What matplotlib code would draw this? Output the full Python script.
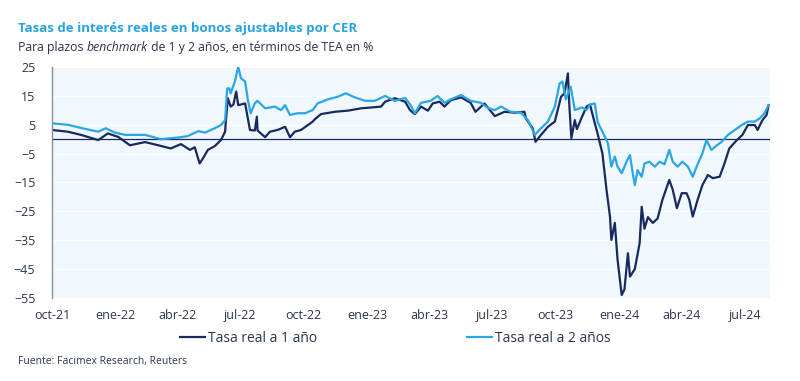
import pandas as pd
import matplotlib.pyplot as plt

# Tasa real a 1 año (navy)
fechas_1 = [
    "2021-10-01", "2021-10-24", "2021-11-12", "2021-12-07", "2021-12-21", "2022-01-05",
    "2022-01-22", "2022-02-13", "2022-03-04", "2022-03-22", "2022-04-06", "2022-04-19",
    "2022-04-26", "2022-05-03", "2022-05-08", "2022-05-15", "2022-05-25", "2022-06-03",
    "2022-06-09", "2022-06-10", "2022-06-13", "2022-06-17", "2022-06-21", "2022-06-25",
    "2022-06-28", "2022-07-08", "2022-07-15", "2022-07-22", "2022-07-25", "2022-07-26",
    "2022-08-06", "2022-08-13", "2022-08-24", "2022-09-04", "2022-09-11", "2022-09-18",
    "2022-09-27", "2022-10-07", "2022-10-14", "2022-10-17", "2022-10-26", "2022-11-15",
    "2022-12-04", "2022-12-23", "2023-01-12", "2023-01-21", "2023-01-27", "2023-02-10",
    "2023-02-25", "2023-03-04", "2023-03-11", "2023-03-20", "2023-03-30", "2023-04-06",
    "2023-04-16", "2023-04-23", "2023-05-02", "2023-05-17", "2023-05-31", "2023-06-07",
    "2023-06-20", "2023-07-05", "2023-07-19", "2023-08-03", "2023-08-17", "2023-08-19",
    "2023-08-29", "2023-09-02", "2023-09-10", "2023-09-20", "2023-09-30", "2023-10-09",
    "2023-10-14", "2023-10-19", "2023-10-21", "2023-10-24", "2023-10-29", "2023-11-01",
    "2023-11-08", "2023-11-15", "2023-11-20", "2023-11-27", "2023-12-01", "2023-12-08",
    "2023-12-14", "2023-12-19", "2023-12-21", "2023-12-26", "2023-12-30", "2024-01-05",
    "2024-01-09", "2024-01-14", "2024-01-17", "2024-01-24", "2024-01-31", "2024-02-03",
    "2024-02-07", "2024-02-12", "2024-02-19", "2024-02-26", "2024-03-04", "2024-03-14",
    "2024-03-19", "2024-03-25", "2024-04-01", "2024-04-08", "2024-04-12", "2024-04-17",
    "2024-04-24", "2024-05-01", "2024-05-09", "2024-05-16", "2024-05-26", "2024-06-02",
    "2024-06-09", "2024-06-20", "2024-06-28", "2024-07-06", "2024-07-16", "2024-07-20",
    "2024-07-27", "2024-08-02", "2024-08-05",
]
tasa_1 = [
    3.2, 2.6, 1.5, -0.3, 2.0, 0.8,
    -2.1, -1.0, -2.1, -3.2, -1.7, -3.7,
    -2.8, -8.4, -6.6, -3.7, -2.4, -0.3,
    2.6, 6.1, 14.2, 11.3, 12.0, 16.5,
    11.8, 12.4, 3.2, 3.0, 7.8, 3.0,
    0.7, 2.6, 3.2, 4.3, 0.7, 2.6,
    3.2, 4.9, 6.1, 6.9, 8.7, 9.5,
    9.9, 10.7, 11.1, 11.3, 13.0, 14.2,
    13.0, 10.1, 8.7, 11.3, 9.9, 12.4,
    13.0, 11.3, 13.5, 14.5, 12.6, 9.5,
    12.4, 8.0, 9.5, 9.2, 9.5, 7.2,
    3.8, -0.9, 1.5, 4.3, 6.1, 14.7,
    15.9, 22.8, 12.0, 0.4, 6.6, 3.5,
    7.5, 11.3, 12.0, 5.5, 2.0, -4.9,
    -17.6, -26.8, -34.9, -29.0, -41.8, -54.0,
    -52.0, -39.5, -47.6, -45.0, -36.0, -23.4,
    -31.0, -27.0, -29.0, -27.5, -21.0, -14.1,
    -17.5, -23.9, -18.7, -18.7, -21.0, -26.8,
    -21.0, -15.9, -12.4, -13.5, -13.0, -8.4,
    -3.2, -0.3, 1.5, 4.9, 4.9, 3.2,
    6.6, 8.4, 11.8,
]

# Tasa real a 2 años (light blue)
fechas_2 = [
    "2021-10-01", "2021-10-24", "2021-11-12", "2021-12-07", "2021-12-18", "2021-12-31",
    "2022-01-15", "2022-02-13", "2022-03-08", "2022-04-06", "2022-04-16", "2022-05-01",
    "2022-05-11", "2022-05-25", "2022-06-03", "2022-06-09", "2022-06-12", "2022-06-15",
    "2022-06-17", "2022-06-23", "2022-06-28", "2022-07-02", "2022-07-08", "2022-07-12",
    "2022-07-16", "2022-07-22", "2022-07-26", "2022-08-06", "2022-08-20", "2022-08-29",
    "2022-09-04", "2022-09-11", "2022-09-22", "2022-10-03", "2022-10-14", "2022-10-21",
    "2022-11-05", "2022-11-19", "2022-12-01", "2022-12-14", "2022-12-29", "2023-01-12",
    "2023-01-27", "2023-02-10", "2023-02-25", "2023-03-05", "2023-03-11", "2023-03-20",
    "2023-04-03", "2023-04-13", "2023-04-23", "2023-05-02", "2023-05-17", "2023-05-31",
    "2023-06-15", "2023-06-25", "2023-07-05", "2023-07-14", "2023-07-28", "2023-08-12",
    "2023-08-22", "2023-09-01", "2023-09-10", "2023-09-20", "2023-09-30", "2023-10-07",
    "2023-10-11", "2023-10-16", "2023-10-23", "2023-10-29", "2023-11-08", "2023-11-15",
    "2023-11-20", "2023-11-27", "2023-12-01", "2023-12-08", "2023-12-16", "2023-12-21",
    "2023-12-26", "2023-12-30", "2024-01-05", "2024-01-12", "2024-01-17", "2024-01-21",
    "2024-01-24", "2024-01-28", "2024-02-03", "2024-02-07", "2024-02-14", "2024-02-22",
    "2024-02-29", "2024-03-07", "2024-03-14", "2024-03-19", "2024-03-26", "2024-04-02",
    "2024-04-10", "2024-04-17", "2024-04-24", "2024-05-01", "2024-05-07", "2024-05-14",
    "2024-05-22", "2024-05-29", "2024-06-07", "2024-06-17", "2024-06-27", "2024-07-06",
    "2024-07-16", "2024-07-23", "2024-07-30", "2024-08-05",
]
tasa_2 = [
    5.5, 5.0, 3.9, 2.6, 3.8, 2.3,
    1.5, 1.5, 0.0, 0.7, 1.1, 2.8,
    2.3, 3.8, 4.9, 6.6, 17.6, 17.6,
    15.9, 19.9, 25.1, 21.1, 20.0, 13.6,
    9.0, 12.4, 13.3, 10.7, 11.3, 10.1,
    11.8, 8.4, 9.0, 9.0, 10.1, 12.4,
    13.8, 14.7, 15.9, 14.5, 13.3, 13.3,
    15.0, 13.3, 14.3, 11.8, 9.0, 12.6,
    13.3, 15.0, 12.6, 13.8, 15.3, 13.3,
    12.6, 10.8, 10.1, 11.3, 9.5, 9.2,
    6.6, 1.5, 3.8, 6.1, 11.3, 19.3,
    20.0, 13.8, 18.2, 10.1, 11.0, 10.1,
    12.0, 12.4, 6.0, 2.6, -1.4, -9.5,
    -6.0, -9.5, -11.8, -7.8, -5.5, -11.8,
    -15.9, -10.7, -13.0, -8.4, -7.8, -9.5,
    -7.8, -8.7, -3.7, -7.8, -9.5, -7.8,
    -9.5, -13.0, -8.7, -4.9, -0.3, -3.7,
    -2.1, -0.9, 1.5, 3.2, 4.9, 6.1,
    6.1, 7.2, 9.0, 11.8,
]

yticks = [25, 15, 5, -5, -15, -25, -35, -45, -55]
xtick_fechas = ["2021-10-01", "2022-01-01", "2022-04-01", "2022-07-01", "2022-10-01",
                "2023-01-01", "2023-04-01", "2023-07-01", "2023-10-01", "2024-01-01",
                "2024-04-01", "2024-07-01"]
xtick_labels = ["oct-21", "ene-22", "abr-22", "jul-22", "oct-22", "ene-23",
                "abr-23", "jul-23", "oct-23", "ene-24", "abr-24", "jul-24"]

navy = "#172a5e"
celeste = "#2aa6e6"
texto = "#2b3550"

plt.rcParams["font.family"] = ["Open Sans", "DejaVu Sans"]

fig = plt.figure(figsize=(8, 3.81), dpi=100)
ax = fig.add_axes([0.065, 0.218, 0.8975, 0.606])
ax.set_facecolor("#f0f7fd")

ax.plot(pd.to_datetime(fechas_1), tasa_1, color=navy, lw=1.6, label="Tasa real a 1 año")
ax.plot(pd.to_datetime(fechas_2), tasa_2, color=celeste, lw=1.6, label="Tasa real a 2 años")
ax.axhline(0, color=navy, lw=0.9, zorder=1)

ax.set_ylim(-55, 25)
ax.set_yticks(yticks)
ax.set_xlim(pd.Timestamp("2021-10-01"), pd.Timestamp("2024-08-07"))
ax.set_xticks(pd.to_datetime(xtick_fechas))
ax.set_xticklabels(xtick_labels)
ax.grid(axis="y", color="white", lw=0.8)
ax.set_axisbelow(True)

for s in ["top", "right", "bottom"]:
    ax.spines[s].set_visible(False)
ax.spines["left"].set_color("#8a8f9c")
ax.spines["left"].set_linewidth(1.0)
ax.tick_params(axis="both", length=0, labelsize=9, labelcolor=texto)
ax.tick_params(axis="x", pad=8)
ax.tick_params(axis="y", pad=12)

fig.text(0.0225, 0.925, "Tasas de interés reales en bonos ajustables por CER",
         color="#29a3e0", fontsize=9.5, fontweight="bold", va="center")

# subtitle with italic word, placed piece by piece
partes = [("Para plazos ", "normal"), ("benchmark", "italic"),
          (" de 1 y 2 años, en términos de TEA en %", "normal")]
fig.canvas.draw()
renderer = fig.canvas.get_renderer()
x0 = 0.0225
for txt, estilo in partes:
    t = fig.text(x0, 0.875, txt, color=texto, fontsize=8.8, va="center", style=estilo)
    bb = t.get_window_extent(renderer)
    x0 += bb.width / fig.bbox.width

fig.legend(loc="center", bbox_to_anchor=(0.494, 0.112), ncol=2, frameon=False,
           fontsize=10, handlelength=1.8, handletextpad=0.2, columnspacing=10.8,
           labelcolor=texto)

fig.text(0.0225, 0.05, "Fuente: Facimex Research, Reuters", color=texto, fontsize=7.5, va="center")

plt.savefig("out.png", dpi=100)
